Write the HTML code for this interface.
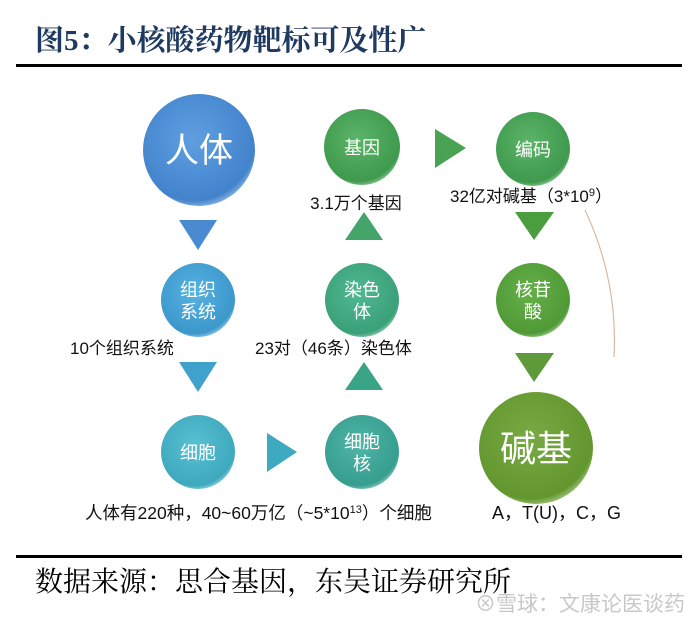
<!DOCTYPE html>
<html><head><meta charset="utf-8"><style>
html,body{margin:0;padding:0;background:#fff;}
svg{display:block;}
</style></head><body>
<svg width="700" height="626" viewBox="0 0 700 626" xmlns="http://www.w3.org/2000/svg">
<defs>
<radialGradient id="gb" cx="45%" cy="40%" r="65%"><stop offset="0" stop-color="#5f9fe0"/><stop offset="0.85" stop-color="#4383cc"/><stop offset="1" stop-color="#a9c9ee"/></radialGradient>
<radialGradient id="gg" cx="45%" cy="40%" r="65%"><stop offset="0" stop-color="#5cb468"/><stop offset="0.85" stop-color="#3f9a4e"/><stop offset="1" stop-color="#a8d8ae"/></radialGradient>
<radialGradient id="gl" cx="45%" cy="40%" r="65%"><stop offset="0" stop-color="#55b2e0"/><stop offset="0.85" stop-color="#3c98cc"/><stop offset="1" stop-color="#a9d6ee"/></radialGradient>
<radialGradient id="gt" cx="45%" cy="40%" r="65%"><stop offset="0" stop-color="#52b892"/><stop offset="0.85" stop-color="#3aa078"/><stop offset="1" stop-color="#a8dcc6"/></radialGradient>
<radialGradient id="gc" cx="45%" cy="40%" r="65%"><stop offset="0" stop-color="#58c0d2"/><stop offset="0.85" stop-color="#3ea8bd"/><stop offset="1" stop-color="#aadde6"/></radialGradient>
<radialGradient id="gn" cx="45%" cy="40%" r="65%"><stop offset="0" stop-color="#4fb6a8"/><stop offset="0.85" stop-color="#379d8e"/><stop offset="1" stop-color="#a8dad2"/></radialGradient>
<radialGradient id="gh" cx="45%" cy="40%" r="65%"><stop offset="0" stop-color="#66b04a"/><stop offset="0.85" stop-color="#4f9a36"/><stop offset="1" stop-color="#b0d8a0"/></radialGradient>
<radialGradient id="gk" cx="45%" cy="40%" r="65%"><stop offset="0" stop-color="#78aa44"/><stop offset="0.85" stop-color="#62962e"/><stop offset="1" stop-color="#bcd8a0"/></radialGradient>
</defs>

<text x="35" y="50" font-family="'Liberation Serif','Noto Serif CJK SC',serif" font-size="29" font-weight="bold" fill="#1f3a60">图5：小核酸药物靶标可及性广</text>
<rect x="16" y="64" width="666" height="3" fill="#000"/>

<g font-family="'Liberation Sans','Noto Sans CJK SC',sans-serif" fill="#fff" text-anchor="middle">
<ellipse cx="199" cy="150" rx="56" ry="56" fill="url(#gb)"/>
<text x="199" y="162" font-size="34">人体</text>
<circle cx="362" cy="147" r="38" fill="url(#gg)"/>
<text x="362" y="154" font-size="18">基因</text>
<circle cx="533" cy="149" r="37" fill="url(#gg)"/>
<text x="533" y="156" font-size="18">编码</text>

<circle cx="198" cy="300" r="37" fill="url(#gl)"/>
<text x="198" y="296" font-size="18">组织</text><text x="198" y="318" font-size="18">系统</text>
<circle cx="362" cy="300" r="37" fill="url(#gt)"/>
<text x="362" y="296" font-size="18">染色</text><text x="362" y="318" font-size="18">体</text>
<circle cx="533" cy="300" r="37" fill="url(#gh)"/>
<text x="533" y="296" font-size="18">核苷</text><text x="533" y="318" font-size="18">酸</text>

<circle cx="198" cy="452" r="37" fill="url(#gc)"/>
<text x="198" y="459" font-size="18">细胞</text>
<circle cx="362" cy="452" r="37" fill="url(#gn)"/>
<text x="362" y="448" font-size="18">细胞</text><text x="362" y="470" font-size="18">核</text>
<ellipse cx="536" cy="448" rx="57" ry="56" fill="url(#gk)"/>
<text x="536" y="461" font-size="36">碱基</text>
</g>

<polygon points="179,220 217,220 198,250" fill="#4a8ad0"/>
<polygon points="345,240 383,240 364,212" fill="#45a46a"/>
<polygon points="435,129 466,148 435,168" fill="#4aa352"/>
<polygon points="515,212 554,212 534,240" fill="#4a9e3e"/>
<polygon points="179,362 217,362 198,392" fill="#40a2cc"/>
<polygon points="345,390 383,390 364,362" fill="#3aa486"/>
<polygon points="515,353 554,353 534,382" fill="#5e9a3a"/>
<polygon points="267,433 297,452 267,472" fill="#3eaabf"/>

<path d="M585,210 Q618,280 614,357" fill="none" stroke="#d8b8a0" stroke-width="1.2"/>

<g font-family="'Liberation Sans','Noto Sans CJK SC',sans-serif" font-size="17" fill="#111">
<text x="356" y="209" text-anchor="middle">3.1万个基因</text>
<text x="450" y="202">32亿对碱基（3*10<tspan font-size="11" dy="-6">9</tspan><tspan dy="6">）</tspan></text>
<text x="70" y="354">10个组织系统</text>
<text x="255" y="354">23对（46条）染色体</text>
<text x="85" y="519" font-size="17.5">人体有220种，40~60万亿（~5*10<tspan font-size="11" dy="-6">13</tspan><tspan dy="6">）个细胞</tspan></text>
<text x="492" y="519" font-size="18">A，T(U)，C，G</text>
</g>

<rect x="16" y="555" width="666" height="3" fill="#000"/>
<text x="35" y="591" font-family="'Liberation Serif','Noto Serif CJK SC',serif" font-size="28" fill="#000">数据来源：思合基因，东吴证券研究所</text>
<text x="475" y="611" font-family="'Liberation Sans','Noto Sans CJK SC',sans-serif" font-size="21" fill="#c8c8c8">⊗雪球：文康论医谈药</text>
</svg>
</body></html>
